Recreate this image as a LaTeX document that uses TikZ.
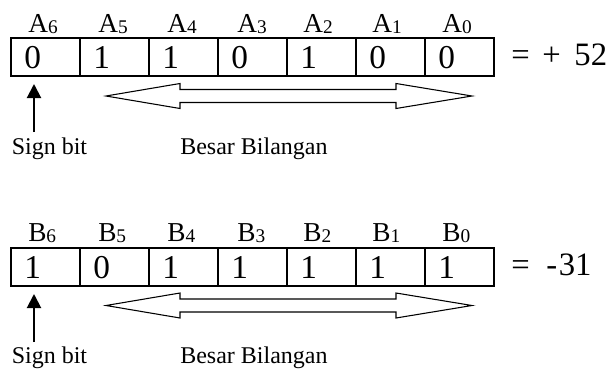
\documentclass[tikz,border=0pt]{standalone}
\usepackage{fontspec}
\setmainfont{Liberation Serif}
\usetikzlibrary{arrows.meta}
\newcommand\regsub[2]{#1{\fontsize{14.5}{14.5}\selectfont\raisebox{-0.75pt}{#2}}}
\begin{document}
\begin{tikzpicture}[x=0.75pt,y=-0.75pt,
  cell/.style={draw, line width=1.5pt, minimum width=51.75pt, minimum height=28.5pt, inner sep=0pt, outer sep=0pt},
  bitval/.style={anchor=base west, inner sep=0pt, font=\fontsize{25}{25}\selectfont},
  reglbl/.style={anchor=base west, inner sep=0pt, font=\fontsize{20.5}{20.5}\selectfont},
  note/.style={anchor=base west, inner sep=0pt, font=\fontsize{18}{18}\selectfont},
  eqn/.style={anchor=base west, inner sep=0pt, font=\fontsize{24.5}{24.5}\selectfont},
  signarrow/.style={line width=1.5pt, -{Triangle[length=10.5pt,width=10.5pt]}},
  bigarrow/.style={draw, line width=0.8pt, line join=miter, fill=white}
]
\useasboundingbox (0,0) rectangle (613,371);

% ---------- register A ----------
\foreach \v/\lx [count=\k from 0] in {0/28,1/98,1/167,0/237,1/303,0/372,0/442} {
  \pgfmathtruncatemacro\bit{6-\k}
  \node[cell] (a\bit) at ({45.5+69*\k},57) {};
  \node[bitval] (va\bit) at ({24+69*\k},68) {\v};
  \node[reglbl] (la\bit) at (\lx,32) {\regsub{A}{\bit}};
}
\node[eqn] (eqa) at (511,65) {= \hspace{3.4pt}+ \hspace{4.1pt}52};
\coordinate (sbAfoot) at (34,132);
\coordinate (sbAtip) at (34,84);
\draw[signarrow] (sbAfoot) -- (sbAtip);
\node[note] (signA) at (11.5,154) {Sign bit};
\node[note] (besA) at (180,154) {Besar Bilangan};
\path[bigarrow] (106,96) -- (180,83.5) -- (180,89.5) -- (396,89.5) -- (396,83.5)
  -- (472,96) -- (396,108.5) -- (396,102.5) -- (180,102.5) -- (180,108.5) -- cycle;

% ---------- register B ----------
\foreach \v/\lx [count=\k from 0] in {1/28,0/98,1/167,1/237,1/303,1/372,1/442} {
  \pgfmathtruncatemacro\bit{6-\k}
  \node[cell] (b\bit) at ({45.5+69*\k},267) {};
  \node[bitval] (vb\bit) at ({24+69*\k},278) {\v};
  \node[reglbl] (lb\bit) at (\lx,241.5) {\regsub{B}{\bit}};
}
\node[eqn] (eqb) at (511,275) {= \hspace{6.3pt}- \hspace{-4.8pt}31};
\coordinate (sbBfoot) at (34,342);
\coordinate (sbBtip) at (34,294);
\draw[signarrow] (sbBfoot) -- (sbBtip);
\node[note] (signB) at (11.5,363) {Sign bit};
\node[note] (besB) at (180,363) {Besar Bilangan};
\path[bigarrow] (106,305.5) -- (180,293) -- (180,299) -- (396,299) -- (396,293)
  -- (472,305.5) -- (396,318) -- (396,312) -- (180,312) -- (180,318) -- cycle;
\end{tikzpicture}
\end{document}
